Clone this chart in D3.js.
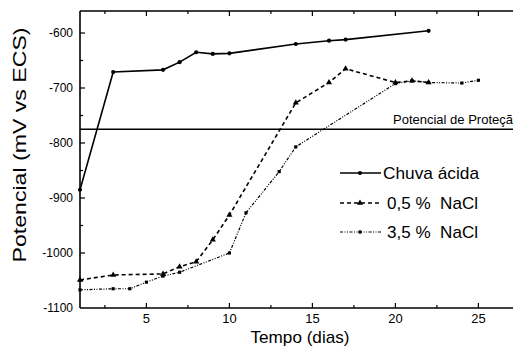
<!DOCTYPE html>
<html>
<head>
<meta charset="utf-8">
<script src="https://cdn.jsdelivr.net/npm/d3@7"></script>
<style>
  body { margin: 0; background: #fff; }
  text { font-family: "Liberation Sans", Arial, sans-serif; fill: #000; white-space: pre; }
</style>
</head>
<body>
<div id="okvir"></div>
<script>
// podaci ocitani sa slike
const diasChuva = [1, 3, 6, 7, 8, 9, 10, 14, 16, 17, 22];
const chuva = [-885, -671, -667, -653, -635, -638, -637, -620, -614, -612, -596];

const dias05 = [1, 3, 6, 7, 8, 9, 10, 14, 16, 17, 20, 21, 22];
const nacl05 = [-1049, -1040, -1038, -1025, -1016, -976, -931, -727, -690, -665, -690, -687, -690];

const dias35 = [1, 3, 4, 5, 6, 7, 10, 11, 13, 14, 20, 21, 22, 24, 25];
const nacl35 = [-1067, -1065, -1065, -1053, -1042, -1035, -1000, -927, -852, -807, -692, -687, -690, -691, -686];

const potencialProtecao = -775;
const xTicks = [5, 10, 15, 20, 25];
const yTicks = [-600, -700, -800, -900, -1000, -1100];
const legenda = ["Chuva ácida", "0,5 %  NaCl", "3,5 %  NaCl"];

function crtaj() {
  const sirina = 513, visina = 348;

  const svg = d3.select("#okvir").append("svg")
    .attr("width", sirina)
    .attr("height", visina);

  const xSkala = d3.scaleLinear().domain([1, 27]).range([80, 80 + 26 * 16.6]);
  const ySkala = d3.scaleLinear().domain([-1100, -560]).range([308, 308 - 540 * 0.55]);

  const x0 = xSkala(1), yDno = ySkala(-1100), yVrh = ySkala(-560);

  // okvir
  const okvir = svg.append("g").attr("stroke", "#000").attr("stroke-width", 1.6);
  okvir.append("line").attr("x1", x0).attr("x2", sirina).attr("y1", yDno).attr("y2", yDno);
  okvir.append("line").attr("x1", x0).attr("x2", sirina).attr("y1", yVrh).attr("y2", yVrh);
  okvir.append("line").attr("x1", x0).attr("x2", x0).attr("y1", yVrh).attr("y2", yDno);

  // crtice prema unutra
  const crtice = svg.append("g").attr("stroke", "#000").attr("stroke-width", 1.2);
  d3.range(2.5, 27, 2.5).forEach(v => {
    const d = v % 5 === 0 ? 5 : 3;
    crtice.append("line").attr("x1", xSkala(v)).attr("x2", xSkala(v)).attr("y1", yDno).attr("y2", yDno - d);
    crtice.append("line").attr("x1", xSkala(v)).attr("x2", xSkala(v)).attr("y1", yVrh).attr("y2", yVrh + d);
  });
  d3.range(-1050, -560, 50).forEach(v => {
    const d = v % 100 === 0 ? 5 : 3;
    crtice.append("line").attr("x1", x0).attr("x2", x0 + d).attr("y1", ySkala(v)).attr("y2", ySkala(v));
  });

  // oznake osi
  svg.append("g").selectAll("text").data(xTicks).join("text")
    .attr("x", d => xSkala(d))
    .attr("y", 323)
    .attr("text-anchor", "middle")
    .style("font-size", "13px")
    .text(d => d);

  svg.append("g").selectAll("text").data(yTicks).join("text")
    .attr("x", 73)
    .attr("y", d => ySkala(d))
    .attr("dy", "0.35em")
    .attr("text-anchor", "end")
    .style("font-size", "12px")
    .text(d => String(d));

  svg.append("text")
    .attr("x", 300).attr("y", 343)
    .attr("text-anchor", "middle")
    .attr("textLength", 99).attr("lengthAdjust", "spacingAndGlyphs")
    .style("font-size", "17px")
    .text("Tempo (dias)");

  svg.append("text")
    .attr("transform", "translate(26,145) rotate(-90)")
    .attr("text-anchor", "middle")
    .attr("textLength", 235).attr("lengthAdjust", "spacingAndGlyphs")
    .style("font-size", "19px")
    .text("Potencial (mV vs ECS)");

  // potencial de protecao
  svg.append("line")
    .attr("x1", x0).attr("x2", sirina)
    .attr("y1", ySkala(potencialProtecao)).attr("y2", ySkala(potencialProtecao))
    .attr("stroke", "#000").attr("stroke-width", 1.6);
  svg.append("text")
    .attr("x", 393).attr("y", ySkala(potencialProtecao) - 5)
    .style("font-size", "13px")
    .text("Potencial de Proteção");

  const serije = [
    { ime: legenda[0], x: diasChuva, y: chuva, dash: null, sirina: 1.6, oblik: d3.symbolCircle, vel: 14 },
    { ime: legenda[1], x: dias05, y: nacl05, dash: "4,3", sirina: 1.6, oblik: d3.symbolTriangle, vel: 16 },
    { ime: legenda[2], x: dias35, y: nacl35, dash: "3,1.5,1,1.5,1,1.5", sirina: 1.2, oblik: d3.symbolSquare, vel: 10 }
  ];

  const linija = d3.line().x(d => xSkala(d[0])).y(d => ySkala(d[1]));

  serije.forEach(s => {
    const tocke = s.x.map((v, i) => [v, s.y[i]]);
    svg.append("path")
      .attr("d", linija(tocke))
      .attr("fill", "none")
      .attr("stroke", "#000")
      .attr("stroke-width", s.sirina)
      .attr("stroke-dasharray", s.dash);
    svg.append("g").selectAll("path").data(tocke).join("path")
      .attr("transform", d => `translate(${xSkala(d[0])},${ySkala(d[1])})`)
      .attr("d", d3.symbol().type(s.oblik).size(s.vel))
      .attr("fill", "#000");
  });

  // legenda
  const leg = svg.append("g");
  const legY = [173, 203, 232];
  const legTx = [383, 387, 387];
  const legSir = [96, 91, 91];
  serije.forEach((s, i) => {
    leg.append("line")
      .attr("x1", 340).attr("x2", 381)
      .attr("y1", legY[i]).attr("y2", legY[i])
      .attr("stroke", "#000")
      .attr("stroke-width", s.sirina)
      .attr("stroke-dasharray", s.dash);
    leg.append("path")
      .attr("transform", `translate(360,${legY[i]})`)
      .attr("d", d3.symbol().type(s.oblik).size(s.vel))
      .attr("fill", "#000");
    leg.append("text")
      .attr("x", legTx[i]).attr("y", legY[i] + 6)
      .attr("textLength", legSir[i]).attr("lengthAdjust", "spacingAndGlyphs")
      .style("font-size", "17px")
      .text(s.ime);
  });
}

crtaj();
</script>
</body>
</html>
